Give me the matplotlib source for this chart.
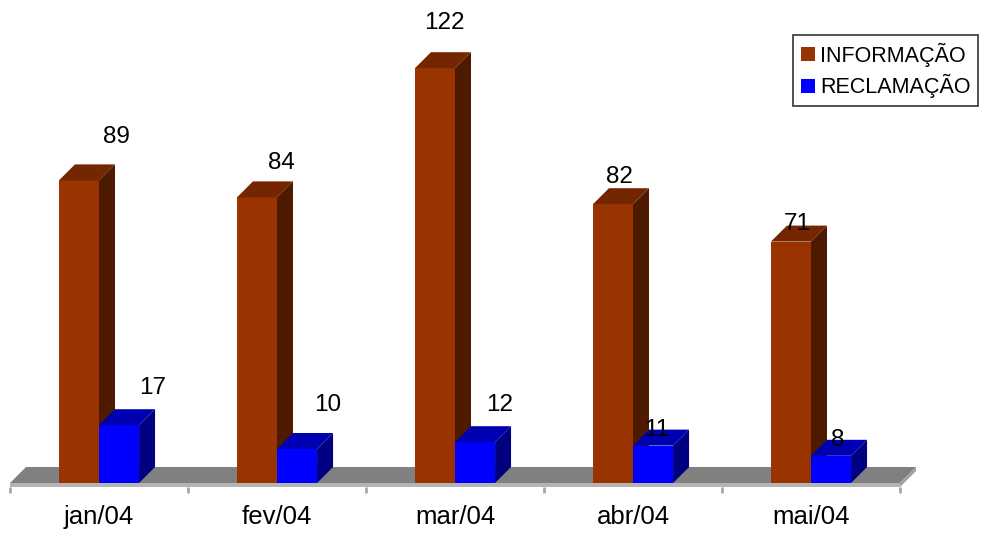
import matplotlib
matplotlib.use("Agg")
import matplotlib.pyplot as plt
from matplotlib.patches import Polygon, Rectangle, Patch

# data
months = ["jan/04", "fev/04", "mar/04", "abr/04", "mai/04"]
informacao = [89, 84, 122, 82, 71]
reclamacao = [17, 10, 12, 11, 8]
series_names = ["INFORMAÇÃO", "RECLAMAÇÃO"]

# colours: front, top, side
orange = ("#993300", "#732600", "#4d1a00")
blue = ("#0000ff", "#0000b3", "#000080")

# label nudges in pixels (dx, dy) relative to the bar's front top centre
nudge_info = [(37, 43), (24, 34), (9, 45), (6, 27), (6, 18)]
nudge_recl = [(34, 37), (31, 44), (25, 37), (4, 16), (7, 16)]

plt.rcParams['font.family'] = ['Liberation Sans', 'DejaVu Sans']

fig = plt.figure(figsize=(9.84, 5.4), dpi=100)
ax = fig.add_axes([0, 0, 1, 1])
ax.set_xlim(-10 / 178, 974 / 178)
ax.set_ylim(-57 / 3.4, 483 / 3.4)
ax.axis("off")

# depth offset (category units, value units)
dx = 16 / 178
dy = 16 / 3.4
w = 0.225
n = len(months)

# floor
ax.add_patch(Polygon([(0, 0), (n, 0), (n + dx, dy), (dx, dy)],
                     closed=True, facecolor="#808080", edgecolor="none", zorder=1))
ax.add_patch(Rectangle((0, -1.2), n, 1.2, facecolor="#b4b4b4", edgecolor="none", zorder=1))
ax.add_patch(Polygon([(n, 0), (n + dx, dy), (n + dx, dy - 1.2), (n, -1.2)],
                     closed=True, facecolor="#a0a0a0", edgecolor="none", zorder=1))
for i in range(n + 1):
    ax.plot([i, i], [-1.2, -3.0], color="#a8a8a8", lw=2, zorder=1, solid_capstyle="butt")

def bar3d(x0, h, cols, z):
    front, top, side = cols
    ax.add_patch(Rectangle((x0, 0), w, h, facecolor=front, edgecolor="none", zorder=z))
    ax.add_patch(Polygon([(x0, h), (x0 + w, h), (x0 + w + dx, h + dy), (x0 + dx, h + dy)],
                         closed=True, facecolor=top, edgecolor="none", zorder=z))
    ax.add_patch(Polygon([(x0 + w, 0), (x0 + w + dx, dy), (x0 + w + dx, h + dy), (x0 + w, h)],
                         closed=True, facecolor=side, edgecolor="none", zorder=z))

for i in range(n):
    xo = i + 0.5 - w
    xb = i + 0.5
    bar3d(xo, informacao[i], orange, 2 + 2 * i)
    bar3d(xb, reclamacao[i], blue, 3 + 2 * i)
    ax.annotate(str(informacao[i]), (xo + w / 2, informacao[i]),
                xytext=nudge_info[i], textcoords="offset pixels",
                ha="center", va="center", fontsize=17.5, zorder=20)
    ax.annotate(str(reclamacao[i]), (xb + w / 2, reclamacao[i]),
                xytext=nudge_recl[i], textcoords="offset pixels",
                ha="center", va="center", fontsize=17.5, zorder=20)
    ax.text(i + 0.5, -10, months[i], ha="center", va="center", fontsize=18.5)

handles = [Patch(facecolor=orange[0], edgecolor="none"),
           Patch(facecolor=blue[0], edgecolor="none")]
leg = fig.legend(handles, series_names, loc="upper left",
                 bbox_to_anchor=(793 / 984, 1 - 35 / 540), borderaxespad=0,
                 fontsize=15.5, frameon=True, fancybox=False, edgecolor="black",
                 handlelength=0.65, handleheight=0.65, handletextpad=0.25,
                 labelspacing=0.35, borderpad=0.35)
leg.get_frame().set_linewidth(1.2)

fig.savefig("out.png", dpi=100)
